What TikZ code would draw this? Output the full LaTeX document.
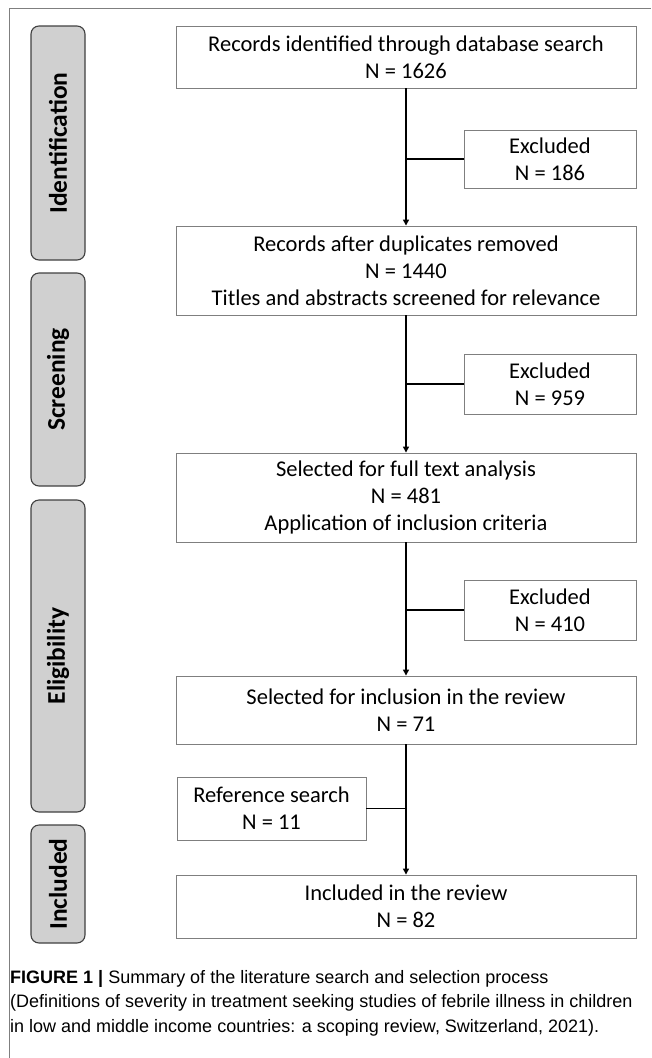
\documentclass[tikz,border=0pt]{standalone}
\usepackage{fontspec}
\setmainfont{Carlito}
\newfontfamily\capfont{Liberation Sans}
\usetikzlibrary{arrows.meta}
\definecolor{boxgray}{HTML}{7F7F7F}
\definecolor{stagefill}{HTML}{D0D0D0}
\definecolor{stageline}{HTML}{404040}

\begin{document}
\begin{tikzpicture}[x=1pt,y=-1pt,
   flowbox/.style={draw=boxgray,line width=0.9pt,align=center,inner sep=0pt,
     font=\fontsize{22.5}{27}\selectfont},
   mainbox/.style={flowbox,minimum width=460pt},
   exclbox/.style={flowbox,minimum width=172pt,minimum height=58pt},
   stagebox/.style={draw=stageline,fill=stagefill,line width=1.1pt,rounded corners=8pt,
     rotate=90,minimum height=54pt,inner sep=0pt,
     font=\bfseries\fontsize{25.5}{28}\selectfont},
   flow/.style={line width=1.3pt,-{Triangle[length=6pt,width=6pt]}},
   branch/.style={line width=1.3pt}]
\useasboundingbox (0,0) rectangle (651,1058);
\draw[boxgray,line width=1pt] (9,1058) -- (9,8) -- (651,8);

% stages
\node[stagebox,minimum width=234pt] (idstage) at (58,143) {Identification};
\node[stagebox,minimum width=213pt] (scrstage) at (58,379.5) {Screening};
\node[stagebox,minimum width=312pt] (eligstage) at (58,656) {Eligibility};
\node[stagebox,minimum width=118pt] (inclstage) at (58,884) {Included};

% flow
\node[mainbox,minimum height=62pt] (found) at (406,57)
  {Records identified through database search\\N = 1626};
\node[exclbox] (excl1) at (550,159) {Excluded\\N = 186};
\node[mainbox,minimum height=89pt] (dedup) at (406,270.5)
  {Records after duplicates removed\\N = 1440\\Titles and abstracts screened for relevance};
\node[exclbox,minimum height=60pt] (excl2) at (550,384) {Excluded\\N = 959};
\node[mainbox,minimum height=89pt] (fulltext) at (406,497.5)
  {Selected for full text analysis\\N = 481\\Application of inclusion criteria};
\node[exclbox,minimum height=60pt] (excl3) at (550,610) {Excluded\\N = 410};
\node[mainbox,minimum height=68pt] (selected) at (406,710)
  {Selected for inclusion in the review\\N = 71};
\node[flowbox,minimum width=189pt,minimum height=63pt] (refsearch) at (271.5,808.5)
  {Reference search\\N = 11};
\node[mainbox,minimum height=63pt] (included) at (406,906.5)
  {Included in the review\\N = 82};

\draw[flow] (found) -- (dedup);
\draw[flow] (dedup) -- (fulltext);
\draw[flow] (fulltext) -- (selected);
\draw[flow] (selected) -- (included);
\draw[branch] (excl1.west) -- (excl1.west -| found.south);
\draw[branch] (excl2.west) -- (excl2.west -| dedup.south);
\draw[branch] (excl3.west) -- (excl3.west -| fulltext.south);
\draw[branch] (refsearch.east) -- (refsearch.east -| selected.south);

% caption
\node[anchor=north west,align=left,inner sep=0pt,
  font=\capfont\fontsize{18}{24.5}\selectfont] (caption) at (10,970)
  {\textbf{FIGURE 1 |} Summary of the literature search and selection process\\
   (Definitions of severity in treatment seeking studies of febrile illness in children\\
   in low and middle income countries: a scoping review, Switzerland, 2021).};
\end{tikzpicture}
\end{document}
